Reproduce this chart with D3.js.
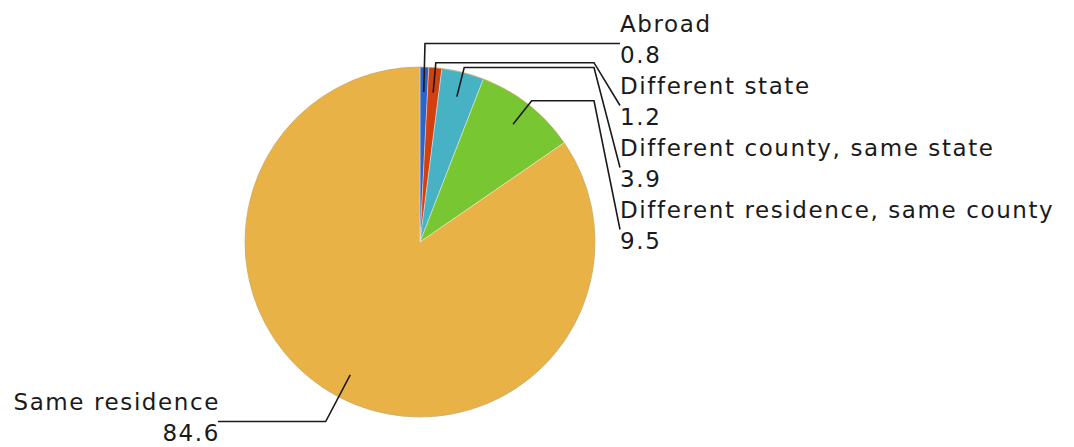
<!DOCTYPE html>
<html><head><meta charset="utf-8">
<script src="https://cdn.jsdelivr.net/npm/d3@7"></script>
<style>body{margin:0;background:#fff}svg{display:block}</style>
</head><body>
<svg id="c" width="1074" height="447"></svg>
<script>
const categories = ["Abroad","Different state","Different county, same state","Different residence, same county","Same residence"];
const values = [0.8,1.2,3.9,9.5,84.6];
const valueLabels = ["0.8","1.2","3.9","9.5","84.6"];
const colors = ["#2d64c8","#d2400f","#48b2c5","#78c631","#e9b247"];

const W=1074,H=447, cx=420, cy=242, R=175;
const svg=d3.select("#c");
const g=svg.append("g").attr("transform",`translate(${cx},${cy})`);
const pie=d3.pie().sort(null).value(d=>d)(values);
const arc=d3.arc().innerRadius(0).outerRadius(R);
g.selectAll("path.s").data(pie).join("path").attr("class","s")
  .attr("d",arc).attr("fill",(d,i)=>colors[i])
  .attr("stroke","rgba(255,255,255,0.45)").attr("stroke-width",0.8);
g.append("circle").attr("r",R).attr("fill","none").attr("stroke","#b89440").attr("stroke-opacity",0.6).attr("stroke-width",1);

const fs=23, ls=1.6, lineH=30.5, blockH=62;
const rightX=620, leftX=220;
// label layout: right side labels stacked from top; left for last
function labelPos(i){
  if(i<4) return {side:1, x:rightX, nameY:32+i*blockH};
  return {side:-1, x:leftX, nameY:410};
}
const anchorArc=d3.arc().innerRadius(150).outerRadius(150);
const elbowR=180;
pie.forEach((d,i)=>{
  const a=(d.startAngle+d.endAngle)/2;
  const sx=Math.sin(a), sy=-Math.cos(a);
  const p=labelPos(i);
  const lg=svg.append("g");
  lg.append("text").attr("x",p.x).attr("y",p.nameY).attr("text-anchor",p.side>0?"start":"end")
    .text(categories[i]);
  lg.append("text").attr("x",p.x).attr("y",p.nameY+lineH).attr("text-anchor",p.side>0?"start":"end")
    .text(valueLabels[i]);
  lg.selectAll("text").attr("font-family","DejaVu Sans, sans-serif").attr("font-size",fs)
    .attr("letter-spacing",ls).attr("fill","#1a1a1a");
  const connY=p.nameY+lineH-19;
  const connX=p.x + (p.side>0? 0 : -2);
  const ax=cx+150*sx, ay=cy+150*sy;
  let ex=cx+elbowR*sx, ey=cy+elbowR*sy;
  if((connY-ey)*sy>0){ const t=(connY-cy)/sy; ex=cx+t*sx; ey=connY; }
  const hx = p.side>0 ? connX-26 : connX;
  const pts=[[ax,ay],[ex,ey],[hx,ey],[connX,connY]];
  lg.append("path").attr("d",d3.line()(pts)).attr("fill","none")
    .attr("stroke","#1a1a1a").attr("stroke-width",1.6).attr("stroke-linejoin","miter");
});
</script>
</body></html>
